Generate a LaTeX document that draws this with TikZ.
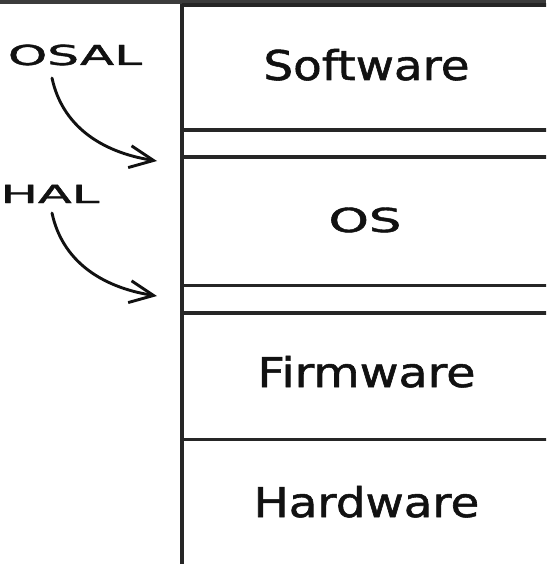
\documentclass[tikz,border=0pt]{standalone}
\usepackage{fontspec}
\setmainfont{DejaVu Sans}
\newfontfamily\handfont[FakeBold=1.3]{DejaVu Sans}
\usetikzlibrary{arrows.meta}
\definecolor{inkc}{HTML}{111111}
\definecolor{linec}{HTML}{262626}
\definecolor{bandc}{HTML}{3C3C3C}
\tikzset{
  layerlabel/.style={anchor=base, inner sep=0pt, text=inkc, font=\handfont\fontsize{41pt}{41pt}\selectfont},
  sidelabel/.style={anchor=base, inner sep=0pt, text=inkc},
  rule/.style={draw=linec, line width=3.2pt},
  pointer/.style={draw=inkc, line width=2.9pt, line cap=round, -{Straight Barb[length=24pt, width=22pt, line width=2.9pt]}}
}
\begin{document}
\begin{tikzpicture}[x=1pt, y=-1pt]
\useasboundingbox (0,0) rectangle (546,564);
\clip (0,0) rectangle (546,564);
% top dark band
\fill[bandc] (0,0) rectangle (546,4.5);
% stack outline
\coordinate (tl) at (182,4);
\coordinate (bl) at (182,566);
\draw[rule] (tl) -- (bl);
\draw[rule] (182,5) -- (548,5);
\draw[rule] (182,130) coordinate (l1) -- (548,130);
\draw[rule] (182,157) coordinate (l2) -- (548,157);
\draw[rule] (182,285.5) coordinate (l3) -- (548,285.5);
\draw[rule] (182,313) coordinate (l4) -- (548,313);
\draw[rule] (182,439.5) coordinate (l5) -- (548,439.5);
% layer labels
\node[layerlabel, xscale=1.14] (sw) at (366.5,80) {Software};
\node[layerlabel, font=\handfont\fontsize{33pt}{33pt}\selectfont, xscale=1.55] (os) at (365,232) {OS};
\node[layerlabel, xscale=1.16] (fw) at (366.5,387) {Firmware};
\node[layerlabel, xscale=1.14] (hw) at (366.5,517) {Hardware};
% side labels
\node[sidelabel, font=\handfont\fontsize{27.5pt}{27.5pt}\selectfont, xscale=1.82] (osal) at (75,65) {OSAL};
\node[sidelabel, font=\handfont\fontsize{25pt}{25pt}\selectfont, xscale=1.98] (hal) at (50,203) {HAL};
% arrows
\coordinate (osalstart) at (52,78);
\coordinate (osaltip) at (157,161);
\coordinate (halstart) at (52,213);
\coordinate (haltip) at (157,296);
\draw[pointer] (osalstart) .. controls (62,125) and (100,152) .. (osaltip);
\draw[pointer] (halstart) .. controls (62,260) and (100,287) .. (haltip);
\end{tikzpicture}
\end{document}
